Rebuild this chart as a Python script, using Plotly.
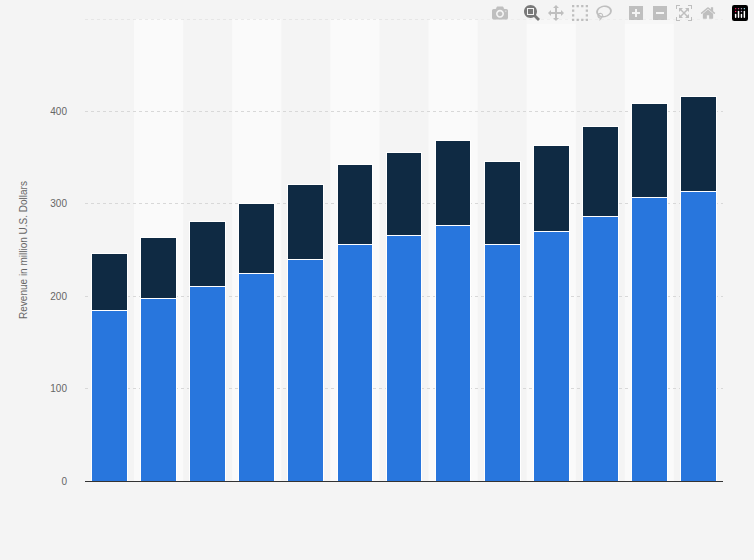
import plotly.graph_objects as go

positions = list(range(13))
segment_a = [185, 198, 211, 225, 240, 256, 266, 276, 256, 270, 286, 307, 313]
totals = [246, 263, 281, 300, 321, 342, 355, 368, 346, 363, 384, 409, 416]
segment_b = [t - a for t, a in zip(totals, segment_a)]
y_ticks = [0, 100, 200, 300, 400]

fig = go.Figure()
fig.add_trace(go.Bar(x=positions, y=segment_a, marker=dict(color="#2876dd", line=dict(color="white", width=1))))
fig.add_trace(go.Bar(x=positions, y=segment_b, marker=dict(color="#0f2a43", line=dict(color="white", width=1))))

shapes = []
for i in positions:
    if i % 2 == 1:
        shapes.append(dict(type="rect", xref="x", yref="paper", x0=i - 0.5, x1=i + 0.5, y0=0, y1=1,
                           fillcolor="#fafafa", line=dict(width=0), layer="below"))
# top gridline (no label in original)
shapes.append(dict(type="line", xref="paper", yref="y", x0=0, x1=1, y0=500, y1=500,
                   line=dict(color="#d8d8d8", width=1, dash="dot"), layer="below"))

fig.update_layout(
    barmode="stack",
    bargap=0.27,
    width=754, height=560,
    margin=dict(l=85, r=31, t=19, b=79, autoexpand=False),
    paper_bgcolor="#f4f4f4",
    plot_bgcolor="#f4f4f4",
    showlegend=False,
    shapes=shapes,
    font=dict(family="Arial, Liberation Sans", size=10, color="#666666"),
    xaxis=dict(range=[-0.5, 12.5], showticklabels=False, showgrid=False, zeroline=False,
               showline=True, linecolor="#333333", linewidth=1),
    yaxis=dict(range=[0, 500], tickvals=y_ticks, showgrid=True, gridcolor="#d8d8d8", griddash="dot",
               zeroline=False, automargin=False, ticks="outside", ticklen=15, tickcolor="rgba(0,0,0,0)",
               title=dict(text="Revenue in million U.S. Dollars", standoff=20,
                          font=dict(size=10, color="#666666"))),
)

fig.write_html("out.html", post_script="document.body.style.margin='0';")
